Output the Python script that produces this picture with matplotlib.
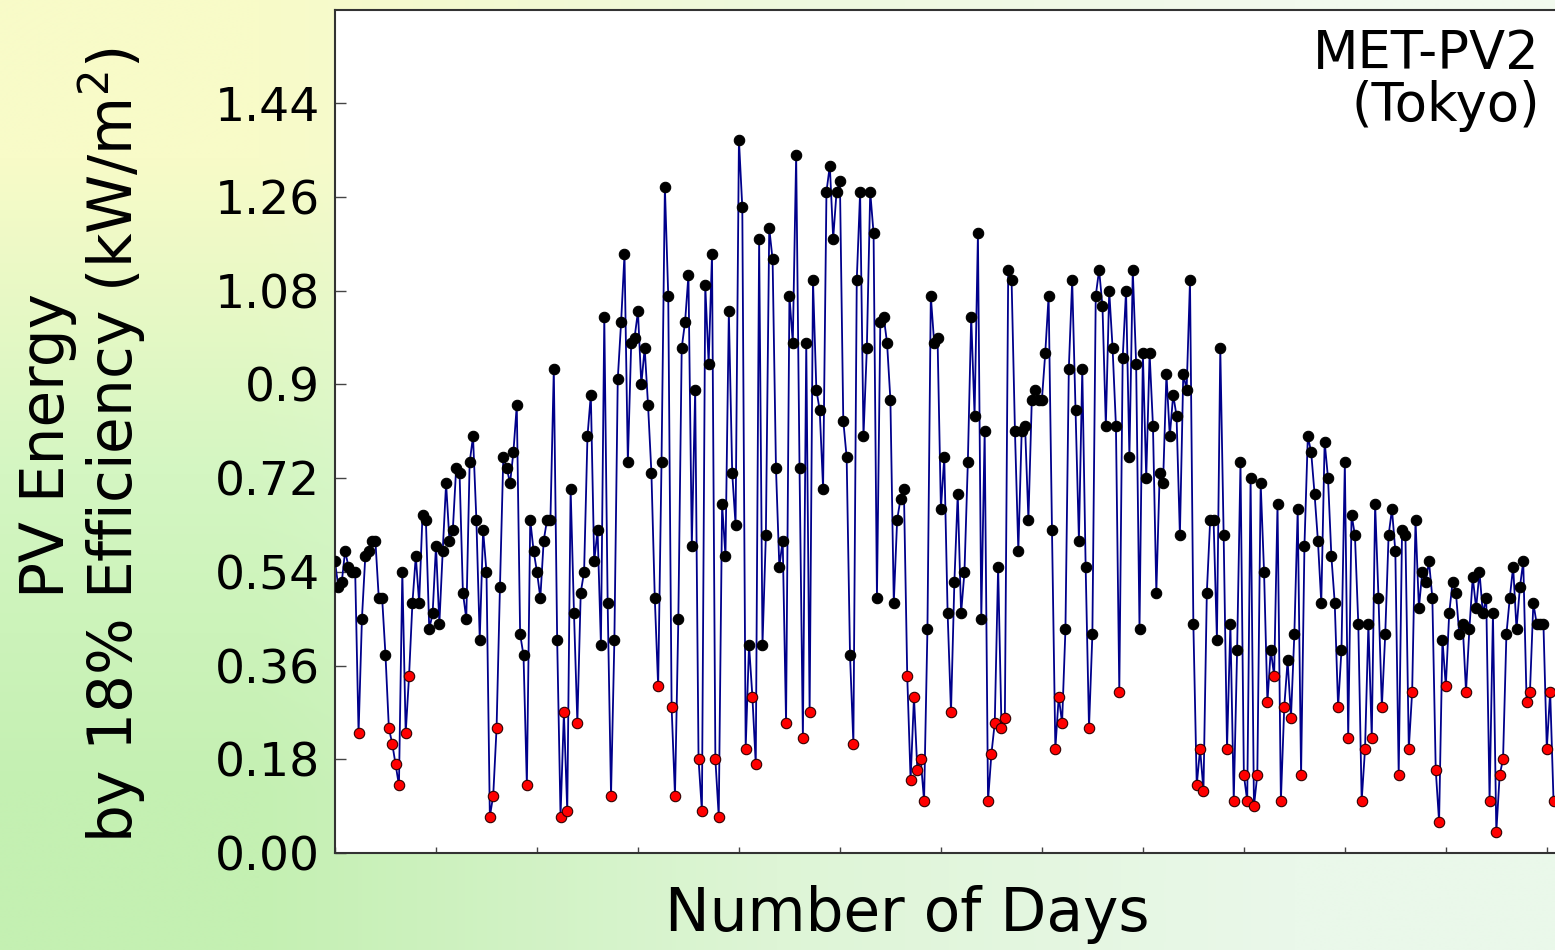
import numpy as np
import matplotlib
matplotlib.use("Agg")
import matplotlib.pyplot as plt

# daily PV energy (kW/m^2) at 18% efficiency, in blocks of about two months
energy_a = [0.56, 0.51, 0.52, 0.58, 0.55, 0.54, 0.54, 0.23, 0.45, 0.57,
            0.58, 0.60, 0.60, 0.49, 0.49, 0.38, 0.24, 0.21, 0.17, 0.13,
            0.54, 0.23, 0.34, 0.48, 0.57, 0.48, 0.65, 0.64, 0.43, 0.46,
            0.59,
            0.44, 0.58, 0.71, 0.60, 0.62, 0.74, 0.73, 0.50, 0.45, 0.75,
            0.80, 0.64, 0.41, 0.62, 0.54, 0.07, 0.11, 0.24, 0.51, 0.76,
            0.74, 0.71, 0.77, 0.86, 0.42, 0.38, 0.13, 0.64, 0.58, 0.54,
            0.49]
energy_b = [0.60, 0.64, 0.64, 0.93, 0.41, 0.07, 0.27, 0.08, 0.70, 0.46,
            0.25, 0.50, 0.54, 0.80, 0.88, 0.56, 0.62, 0.40, 1.03, 0.48,
            0.11, 0.41, 0.91, 1.02, 1.15, 0.75, 0.98, 0.99, 1.04, 0.90,
            0.97, 0.86, 0.73, 0.49, 0.32, 0.75, 1.28, 1.07, 0.28, 0.11,
            0.45, 0.97, 1.02, 1.11, 0.59, 0.89, 0.18, 0.08, 1.09, 0.94,
            1.15, 0.18, 0.07, 0.67, 0.57, 1.04, 0.73, 0.63, 1.37, 1.24]
energy_c = [0.20, 0.40, 0.30, 0.17, 1.18, 0.40, 0.61, 1.20, 1.14, 0.74,
            0.55, 0.60, 0.25, 1.07, 0.98, 1.34, 0.74, 0.22, 0.98, 0.27,
            1.10, 0.89, 0.85, 0.70, 1.27, 1.32, 1.18, 1.27, 1.29, 0.83,
            0.76,
            0.38, 0.21, 1.10, 1.27, 0.80, 0.97, 1.27, 1.19, 0.49, 1.02,
            1.03, 0.98, 0.87, 0.48, 0.64, 0.68, 0.70, 0.34, 0.14, 0.30,
            0.16, 0.18, 0.10, 0.43, 1.07, 0.98, 0.99, 0.66, 0.76, 0.46]
energy_d = [0.27, 0.52, 0.69, 0.46, 0.54, 0.75, 1.03, 0.84, 1.19, 0.45,
            0.81, 0.10, 0.19, 0.25, 0.55, 0.24, 0.26, 1.12, 1.10, 0.81,
            0.58, 0.81, 0.82, 0.64, 0.87, 0.89, 0.87, 0.87, 0.96, 1.07,
            0.62, 0.20, 0.30, 0.25, 0.43, 0.93, 1.10, 0.85, 0.60, 0.93,
            0.55, 0.24, 0.42, 1.07, 1.12, 1.05, 0.82, 1.08, 0.97, 0.82,
            0.31, 0.95, 1.08, 0.76, 1.12, 0.94, 0.43, 0.96, 0.72, 0.96]
energy_e = [0.82, 0.50, 0.73, 0.71, 0.92, 0.80, 0.88, 0.84, 0.61, 0.92,
            0.89, 1.10, 0.44, 0.13, 0.20, 0.12, 0.50, 0.64, 0.64, 0.41,
            0.97, 0.61, 0.20, 0.44, 0.10, 0.39, 0.75, 0.15, 0.10, 0.72,
            0.09,
            0.15, 0.71, 0.54, 0.29, 0.39, 0.34, 0.67, 0.10, 0.28, 0.37,
            0.26, 0.42, 0.66, 0.15, 0.59, 0.80, 0.77, 0.69, 0.60, 0.48,
            0.79, 0.72, 0.57, 0.48, 0.28, 0.39, 0.75, 0.22, 0.65, 0.61]
energy_f = [0.44, 0.10, 0.20, 0.44, 0.22, 0.67, 0.49, 0.28, 0.42, 0.61,
            0.66, 0.58, 0.15, 0.62, 0.61, 0.20, 0.31, 0.64, 0.47, 0.54,
            0.52, 0.56, 0.49, 0.16, 0.06, 0.41, 0.32, 0.46, 0.52,
            0.50, 0.42, 0.44, 0.31, 0.43, 0.53, 0.47, 0.54, 0.46, 0.49,
            0.10, 0.46, 0.04, 0.15, 0.18, 0.42, 0.49, 0.55, 0.43, 0.51,
            0.56, 0.29, 0.31, 0.48, 0.44, 0.44, 0.44, 0.20, 0.31, 0.10]

low_cut = 0.36   # days below this are drawn in red
ytick_vals = [0.0, 0.18, 0.36, 0.54, 0.72, 0.9, 1.08, 1.26, 1.44]
ytick_text = ["0.00", "0.18", "0.36", "0.54", "0.72", "0.9", "1.08", "1.26", "1.44"]

energy = np.array(energy_a + energy_b + energy_c + energy_d + energy_e + energy_f)
days = np.arange(len(energy))
low = energy < low_cut

W, H = 1555, 950
fig = plt.figure(figsize=(W / 100, H / 100), dpi=100)

# soft yellow-green backdrop
bg = fig.add_axes([0, 0, 1, 1], zorder=-10)
grad = np.array([
    [[248, 251, 200], [238, 249, 222], [242, 250, 238]],
    [[212, 246, 194], [230, 248, 222], [236, 249, 236]],
    [[196, 240, 178], [222, 245, 214], [234, 248, 234]],
]) / 255.0
bg.imshow(grad, extent=[0, 1, 0, 1], aspect="auto", interpolation="bilinear")
bg.axis("off")

ax = fig.add_axes([335 / W, 97 / H, 1232 / W, 843 / H])
ax.set_facecolor("white")
ax.plot(days, energy, color="#00008b", lw=1.3, zorder=2)
ax.plot(days[~low], energy[~low], "o", ls="none", ms=7.5, mfc="black",
        mec="black", mew=0.8, zorder=3)
ax.plot(days[low], energy[low], "o", ls="none", ms=7.5, mfc="red",
        mec="#300000", mew=0.8, zorder=3)

ax.set_xlim(0, 366)
ax.set_ylim(0, 1.619)
ax.set_xticks(np.arange(0, 366, 30))
ax.set_xticklabels([])
ax.set_yticks(ytick_vals)
ax.set_yticklabels(ytick_text, fontsize=34)
ax.tick_params(axis="y", direction="in", length=8, width=1, color="#444444", pad=11)
ax.tick_params(axis="x", direction="in", length=4, width=1, color="#444444")
for side in ax.spines.values():
    side.set_color("#333333")
    side.set_linewidth(1.5)

fig.text(907 / W, 1 - 915 / H, "Number of Days", fontsize=43,
         ha="center", va="center")
fig.text(83 / W, 1 - 445 / H, "PV Energy\nby 18% Efficiency (kW/m$^2$)",
         fontsize=43, rotation=90, ha="center", va="center",
         multialignment="center", linespacing=1.0)
fig.text(1540 / W, 1 - 28 / H, "MET-PV2\n(Tokyo)", fontsize=38,
         ha="right", va="top", multialignment="right", linespacing=1.0)

fig.savefig("out.png", dpi=100)
